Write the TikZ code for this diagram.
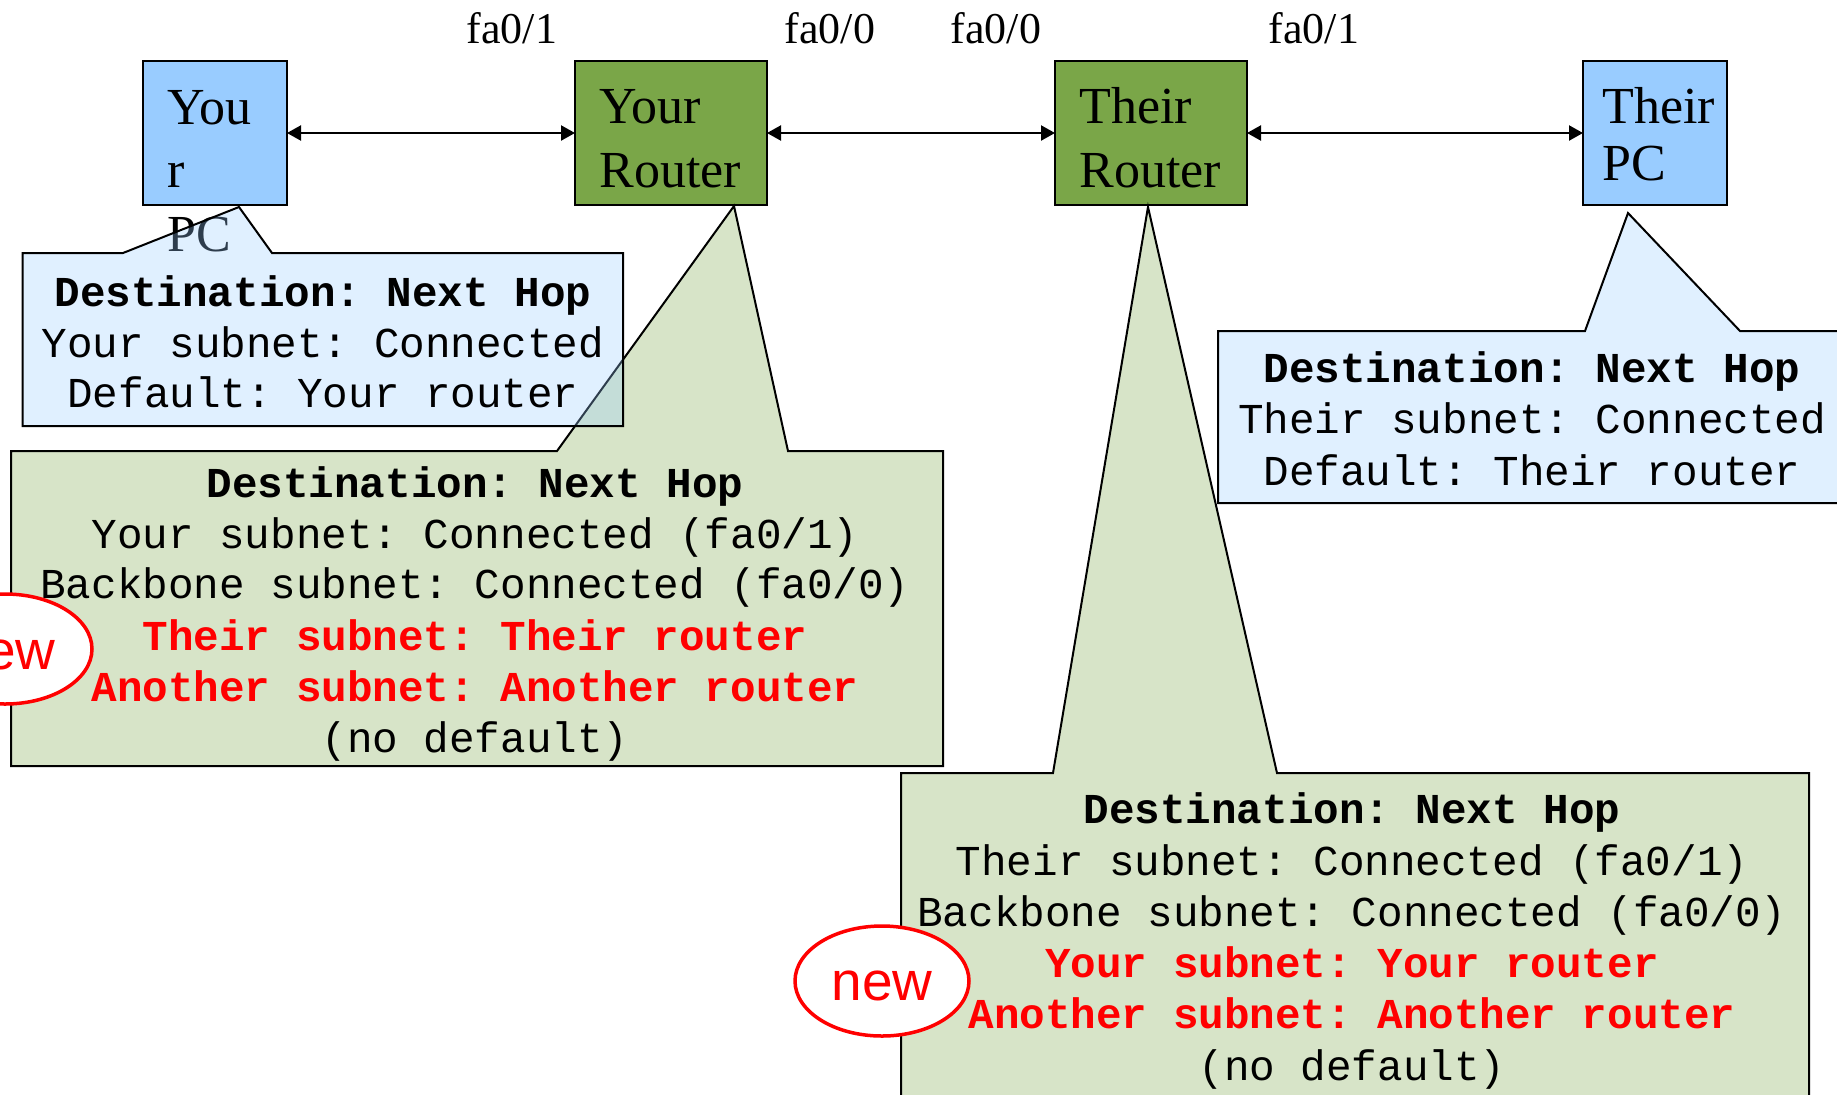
\documentclass[tikz,border=0pt]{standalone}
\usepackage{fontspec}
\setmainfont{Liberation Serif}
\setmonofont{Liberation Mono}
\newfontfamily\newsans{Liberation Sans}
\usetikzlibrary{arrows.meta,shapes.geometric}
\definecolor{pcblue}{HTML}{99CCFF}
\definecolor{rtgreen}{RGB}{122,166,72}
\definecolor{newred}{HTML}{FF0000}
\begin{document}
\begin{tikzpicture}[x=0.5pt,y=-0.5pt,
  dev/.style={draw=black, line width=1.25pt, minimum height=72pt, inner sep=0pt, outer sep=0pt},
  pcbox/.style={dev, fill=pcblue, minimum width=72pt},
  rtbox/.style={dev, fill=rtgreen, minimum width=96pt},
  devlabel/.style={anchor=base west, inner sep=0pt, font=\fontsize{26}{32}\selectfont},
  port/.style={anchor=base, inner sep=0pt, font=\fontsize{22}{26}\selectfont},
  link/.style={{Triangle[length=7pt,width=7.5pt]}-{Triangle[length=7pt,width=7.5pt]}, line width=1.1pt},
  bluecall/.style={draw=black, line width=1pt, fill=pcblue, fill opacity=0.3},
  greencall/.style={draw=black, line width=1pt, fill=rtgreen, fill opacity=0.3},
  row/.style={anchor=base, inner sep=0pt, font=\ttfamily\fontsize{21.3}{25}\selectfont},
  head/.style={row, font=\ttfamily\bfseries\fontsize{21.3}{25}\selectfont},
  newrow/.style={head, text=newred},
  newmark/.style={ellipse, draw=newred, line width=1.75pt, fill=white, minimum width=87pt, minimum height=55pt, inner sep=0pt},
  newtext/.style={anchor=base, inner sep=0pt, text=newred, font=\newsans\fontsize{27.5}{30}\selectfont}
]
\useasboundingbox (0,0) rectangle (1837,1094);
\clip (0,0) rectangle (1837,1094);

% devices
\node[pcbox] (yourpc) at (215,133) {};
\node[rtbox] (yourrt) at (671,133) {};
\node[rtbox] (theirrt) at (1151,133) {};
\node[pcbox] (theirpc) at (1655,133) {};

\node[devlabel] (ypc1) at (167,124) {You};
\node[devlabel] (ypc2) at (167,187) {r};
\node[devlabel] (ypc3) at (167,251) {PC};
\node[devlabel] (yrt1) at (599,123) {Your};
\node[devlabel] (yrt2) at (599,187) {Router};
\node[devlabel] (trt1) at (1079,123) {Their};
\node[devlabel] (trt2) at (1079,187) {Router};
\node[devlabel] (tpc1) at (1602,123) {Their};
\node[devlabel] (tpc2) at (1602,180) {PC};

% links
\draw[link] (yourpc.east) -- (yourrt.west);
\draw[link] (yourrt.east) -- (theirrt.west);
\draw[link] (theirrt.east) -- (theirpc.west);

% ports
\node[port] (p1) at (512,43) {fa0/1};
\node[port] (p2) at (830,43) {fa0/0};
\node[port] (p3) at (996,43) {fa0/0};
\node[port] (p4) at (1314,43) {fa0/1};

% callouts
\draw[greencall] (11,451) -- (557,451) -- (734,206) -- (788,451) -- (943,451) -- (943,766) -- (11,766) -- cycle;
\draw[greencall] (901,773) -- (1053,773) -- (1148,207) -- (1277,773) -- (1809,773) -- (1809,1110) -- (901,1110) -- cycle;
\draw[bluecall] (22.5,253) -- (123,253) -- (239,207) -- (272,253) -- (623,253) -- (623,426) -- (22.5,426) -- cycle;
\draw[bluecall] (1218,331) -- (1585,331) -- (1628,213) -- (1740,331) -- (1850,331) -- (1850,503) -- (1218,503) -- cycle;

% your PC table
\node[head] (a1) at (323,306) {Destination: Next Hop};
\node[row] (a2) at (323,357) {Your subnet: Connected};
\node[row] (a3) at (323,407) {Default: Your router};

% your router table
\node[head] (b1) at (475,497) {Destination: Next Hop};
\node[row] (b2) at (475,548) {Your subnet: Connected (fa0/1)};
\node[row] (b3) at (475,598) {Backbone subnet: Connected (fa0/0)};
\node[newrow] (b4) at (475,650) {Their subnet: Their router};
\node[newrow] (b5) at (475,701) {Another subnet: Another router};
\node[row] (b6) at (475,752) {(no default)};

% their PC table
\node[head] (c1) at (1532,382) {Destination: Next Hop};
\node[row] (c2) at (1532,433) {Their subnet: Connected};
\node[row] (c3) at (1532,485) {Default: Their router};

% their router table
\node[head] (d1) at (1352,823) {Destination: Next Hop};
\node[row] (d2) at (1352,875) {Their subnet: Connected (fa0/1)};
\node[row] (d3) at (1352,926) {Backbone subnet: Connected (fa0/0)};
\node[newrow] (d4) at (1352,977) {Your subnet: Your router};
\node[newrow] (d5) at (1352,1028) {Another subnet: Another router};
\node[row] (d6) at (1352,1080) {(no default)};

% new marks
\node[newmark] (n1) at (5,649) {};
\node[newtext] (n1t) at (5,669) {new};
\node[newmark] (n2) at (882,981) {};
\node[newtext] (n2t) at (882,1000) {new};
\end{tikzpicture}
\end{document}
